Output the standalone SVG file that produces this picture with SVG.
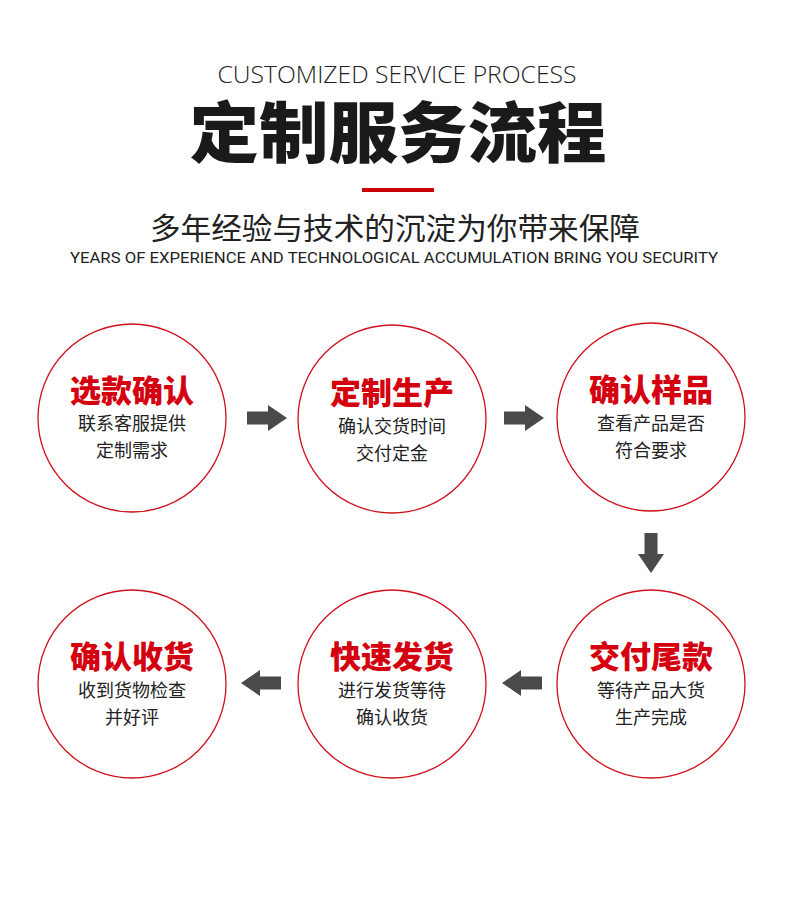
<svg xmlns="http://www.w3.org/2000/svg" width="790" height="902" viewBox="0 0 790 902">
<defs>
<style>
.cjk{font-family:"Noto Sans CJK SC","Noto Sans",sans-serif}
.ring{fill:#fff;stroke:#d0101a;stroke-width:1.3}
.ttl{font-family:"Noto Sans CJK SC",sans-serif;font-weight:900;font-size:31px;fill:#d4000f;text-anchor:middle}
.sub{font-family:"Noto Sans CJK SC",sans-serif;font-size:18px;fill:#222;text-anchor:middle}
.arr{fill:#4a4a4a}
</style>
<path id="ar" d="M-20,-6.5 H1 V-13 L20,0 L1,13 V6.5 H-20 Z"/>
</defs>
<rect width="790" height="902" fill="#fff"/>
<g id="header">
<text x="397" y="83" font-family="'Open Sans',sans-serif" font-weight="300" font-size="23" fill="#222" text-anchor="middle" textLength="359" lengthAdjust="spacingAndGlyphs">CUSTOMIZED SERVICE PROCESS</text>
<text x="398" y="157" class="cjk" font-weight="900" font-size="66" fill="#1a1a1a" text-anchor="middle" textLength="417" lengthAdjust="spacingAndGlyphs">定制服务流程</text>
<rect x="362" y="188" width="72" height="4" fill="#c8000a"/>
<text x="395" y="239" class="cjk" font-size="30" fill="#222" text-anchor="middle" textLength="490" lengthAdjust="spacingAndGlyphs">多年经验与技术的沉淀为你带来保障</text>
<text x="394" y="263" font-family="'Liberation Sans Narrow','Roboto',sans-serif" font-size="15" fill="#222" text-anchor="middle" textLength="648" lengthAdjust="spacingAndGlyphs">YEARS OF EXPERIENCE AND TECHNOLOGICAL ACCUMULATION BRING YOU SECURITY</text>
</g>
<g id="step1">
<circle class="ring" cx="132" cy="418" r="94"/>
<text class="ttl" x="132" y="402">选款确认</text>
<text class="sub" x="132" y="430">联系客服提供</text>
<text class="sub" x="132" y="457">定制需求</text>
</g>
<g id="step2">
<circle class="ring" cx="392" cy="419" r="94"/>
<text class="ttl" x="392" y="404">定制生产</text>
<text class="sub" x="392" y="433">确认交货时间</text>
<text class="sub" x="392" y="460">交付定金</text>
</g>
<g id="step3">
<circle class="ring" cx="651" cy="417" r="94"/>
<text class="ttl" x="651" y="401">确认样品</text>
<text class="sub" x="651" y="430">查看产品是否</text>
<text class="sub" x="651" y="457">符合要求</text>
</g>
<g id="step4">
<circle class="ring" cx="651" cy="684" r="94"/>
<text class="ttl" x="651" y="668">交付尾款</text>
<text class="sub" x="651" y="697">等待产品大货</text>
<text class="sub" x="651" y="724">生产完成</text>
</g>
<g id="step5">
<circle class="ring" cx="392" cy="684" r="94"/>
<text class="ttl" x="392" y="668">快速发货</text>
<text class="sub" x="392" y="697">进行发货等待</text>
<text class="sub" x="392" y="724">确认收货</text>
</g>
<g id="step6">
<circle class="ring" cx="132" cy="684" r="94"/>
<text class="ttl" x="132" y="668">确认收货</text>
<text class="sub" x="132" y="697">收到货物检查</text>
<text class="sub" x="132" y="724">并好评</text>
</g>
<g id="connectors" class="arr">
<use href="#ar" transform="translate(267,418)"/>
<use href="#ar" transform="translate(524,418)"/>
<use href="#ar" transform="translate(651,553) rotate(90)"/>
<use href="#ar" transform="translate(522,683) rotate(180)"/>
<use href="#ar" transform="translate(261,683) rotate(180)"/>
</g>
</svg>
